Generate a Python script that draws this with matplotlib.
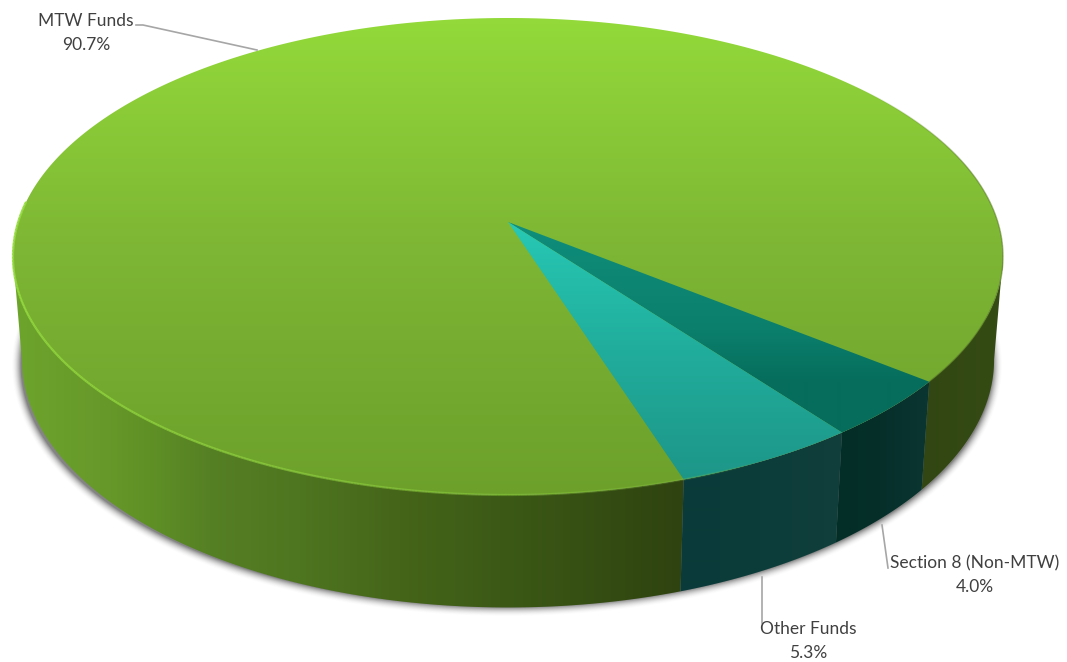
# 3D-look budget pie, drawn by hand on a pixel-sized axes with a projective disc
import numpy as np
import matplotlib
matplotlib.use("Agg")
import matplotlib.pyplot as plt
from matplotlib.colors import to_rgb
from matplotlib.patches import Polygon
from matplotlib.collections import LineCollection

categories = ["Section 8 (Non-MTW)", "Other Funds", "MTW Funds"]
shares = [4.0, 5.3, 90.7]

W, H = 1067, 662
START_ANGLE = 38.5

# projection of the pie disc
APEX_X, APEX_Y = 508.0, 222.0
PERSP = 0.1446
SCALE_X, SCALE_Y = 489.8, 233.5


def rim(phi):
    phi = np.radians(phi)
    d = 1 - PERSP * np.sin(phi)
    return APEX_X + SCALE_X * np.cos(phi) / d, APEX_Y + SCALE_Y * np.sin(phi) / d


def lower(x, y):
    # same rim at the foot of the side wall
    return 508 + 0.982 * (x - 508), 1.04 * y + 92.7


def arc(a, b):
    return rim(np.linspace(a, b, max(int(abs(b - a)) * 3, 8)))


def grad_image(ax, keys, colors, clip, axis):
    pos = np.arange(W if axis == "x" else H) + 0.5
    rgb = np.array([to_rgb(c) for c in colors])
    line = np.stack([np.interp(pos, keys, rgb[:, i]) for i in range(3)], axis=-1)
    img = line[None, :, :] if axis == "x" else line[:, None, :]
    im = ax.imshow(img, extent=(0, W, H, 0), aspect="auto", interpolation="bilinear", zorder=2)
    im.set_clip_path(Polygon(clip, closed=True, transform=ax.transData))


def wall(a, b):
    x, y = arc(a, b)
    xb, yb = lower(x, y)
    return np.column_stack([np.r_[x, xb[::-1]], np.r_[y, yb[::-1]]])


def wedge(a, b):
    x, y = arc(a, b)
    return np.column_stack([np.r_[APEX_X, x], np.r_[APEX_Y, y]])


fig = plt.figure(figsize=(W / 100, H / 100), dpi=100)
ax = fig.add_axes([0, 0, 1, 1])
ax.set_xlim(0, W)
ax.set_ylim(H, 0)
ax.axis("off")

# soft shadow under the foot of the wall
gx, gy = np.meshgrid(np.arange(W) + 0.5, np.arange(H) + 0.5)
nx, ny = (gx - 507) / 491.0, (gy - 365) / 247.0
r = np.sqrt(nx**2 + ny**2)
dist = (r - 1) / (np.sqrt((nx / 491.0) ** 2 + (ny / 247.0) ** 2) / r)
shade = np.zeros((H, W, 4))
shade[..., :3] = 0.2
shade[..., 3] = 0.6 * np.clip(0.5 - dist / 10.0, 0, 1) ** 2
ax.imshow(shade, extent=(0, W, H, 0), aspect="auto", interpolation="bilinear", zorder=1)

sweep = [360 * s / sum(shares) for s in shares]
a_sec = START_ANGLE
a_oth = a_sec + sweep[0]
a_mtw = a_oth + sweep[1]

# side walls, shaded left to right
side_left = 180 - np.degrees(np.arcsin(PERSP))
side_right = np.degrees(np.arcsin(PERSP))
grad_image(ax, [13, 100, 150, 210, 300, 400, 500, 680],
           ["#6da52c", "#67992a", "#5f9026", "#568024", "#4e7520", "#456519", "#3c5a16", "#2f4310"],
           wall(a_mtw, side_left), "x")
grad_image(ax, [920, 995], ["#314612", "#354b14"], wall(side_right, a_sec), "x")
grad_image(ax, [680, 760, 840], ["#0a3b3a", "#0c3d3a", "#113f3b"], wall(a_oth, a_mtw), "x")
grad_image(ax, [836, 880, 925], ["#032d27", "#062f2a", "#0a3530"], wall(a_sec, a_oth), "x")

# top face
tx, ty = arc(0, 360)
grad_image(ax, [18, 255, 495], ["#93da3a", "#7db534", "#6ca02b"], np.column_stack([tx, ty]), "y")
grad_image(ax, [222, 330, 382], ["#0f8f7c", "#0b7f6c", "#066d5c"], wedge(a_sec, a_oth), "y")
grad_image(ax, [222, 350, 480], ["#27c9b5", "#21ad9c", "#1d9688"], wedge(a_oth, a_mtw), "y")

# lit edge on the front left of the rim, dark edge on the right
ex, ey = arc(a_mtw - 8, 185)
pts = np.column_stack([ex, ey])
segs = np.stack([pts[:-1], pts[1:]], axis=1)
fade = np.linspace(0.0, 1.0, len(segs)) ** 0.6
ax.add_collection(LineCollection(segs, colors=[(0.58, 0.86, 0.24, f) for f in fade], linewidths=1.6, zorder=3))
ex, ey = arc(-40, a_sec)
pts = np.column_stack([ex, ey])
segs = np.stack([pts[:-1], pts[1:]], axis=1)
fade = 0.5 * np.clip(np.linspace(0.0, 3.0, len(segs)), 0, 1)
ax.add_collection(LineCollection(segs, colors=[(0.30, 0.42, 0.10, f) for f in fade], linewidths=1.0, zorder=3))

# leader lines
leaders = {
    "MTW Funds": ([136, 143, 257], [25, 25, 50]),
    "Section 8 (Non-MTW)": ([882, 888], [525, 568]),
    "Other Funds": ([762, 762], [577, 623]),
}
for name in categories:
    lx, ly = leaders[name]
    ax.plot(lx, ly, color="#a6a6a6", lw=1.2, zorder=3)

label_pos = {
    "MTW Funds": (86, 21),
    "Section 8 (Non-MTW)": (975, 563),
    "Other Funds": (808, 629),
}
for name, share in zip(categories, shares):
    px, py = label_pos[name]
    ax.text(px, py, name, ha="center", va="center", family="Lato", fontsize=12.5, color="#404040", zorder=4)
    ax.text(px, py + 24, f"{share}%", ha="center", va="center", family="Lato", fontsize=12.5, color="#404040", zorder=4)

ax.set_xlim(0, W)
ax.set_ylim(H, 0)
fig.savefig("out.png", dpi=100)
